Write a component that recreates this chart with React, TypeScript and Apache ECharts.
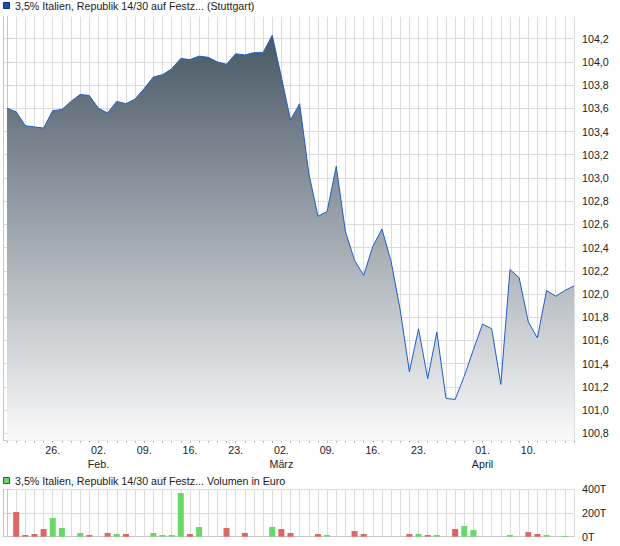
import React, { useEffect, useRef } from "react";
import * as echarts from "echarts";

// Trading-day index 0 = 19 Jan, last index 62 = 17 Apr
const priceValues = [
  103.6, 103.57, 103.45, 103.44, 103.43, 103.58, 103.59, 103.66, 103.72, 103.71,
  103.6, 103.56, 103.66, 103.64, 103.68, 103.77, 103.87, 103.89, 103.94, 104.03,
  104.02, 104.05, 104.04, 104.0, 103.98, 104.07, 104.06, 104.08, 104.08, 104.23,
  103.87, 103.5, 103.64, 103.04, 102.67, 102.71, 103.1, 102.54, 102.29, 102.16,
  102.41, 102.56, 102.28, 101.86, 101.33, 101.7, 101.27, 101.67, 101.1, 101.09,
  101.29, 101.52, 101.74, 101.7, 101.22, 102.21, 102.14, 101.76, 101.62, 102.03,
  101.98, 102.03, 102.07,
];

// Volume in thousand euro (T)
const volumeValues = [
  0, 209, 14, 23, 65, 158, 73, 0, 31, 14,
  0, 31, 23, 23, 0, 0, 31, 14, 14, 369,
  23, 82, 0, 0, 73, 0, 31, 0, 0, 82,
  65, 31, 0, 0, 23, 14, 0, 0, 48, 23,
  0, 0, 0, 0, 23, 23, 14, 14, 0, 65,
  90, 56, 0, 0, 0, 14, 0, 39, 23, 14,
  0, 6, 0,
];
// 1 = up (green), -1 = down (red), 0 = none
const volumeDirection = [
  0, -1, -1, -1, -1, 1, 1, 0, 1, -1,
  0, -1, 1, -1, 0, 0, 1, 1, 1, 1,
  -1, 1, 0, 0, -1, 0, -1, 0, 0, 1,
  -1, -1, 0, 0, -1, 1, 0, 0, -1, -1,
  0, 0, 0, 0, -1, 1, -1, 1, 0, -1,
  1, 1, 0, 0, 0, 1, 0, -1, -1, 1,
  0, 1, 0,
];

const xLabelIndex = [5, 10, 15, 20, 25, 30, 35, 40, 45, 52, 57];
const xLabelText = ["26.", "02.\nFeb.", "09.", "16.", "23.", "02.\nMärz", "09.", "16.", "23.", "01.\nApril", "10."];

const priceTicks = [100.8, 101.0, 101.2, 101.4, 101.6, 101.8, 102.0, 102.2, 102.4, 102.6, 102.8, 103.0, 103.2, 103.4, 103.6, 103.8, 104.0, 104.2];
const volumeTicks = [0, 200, 400];

const titlePrice = "3,5% Italien, Republik 14/30 auf Festz... (Stuttgart)";
const titleVolume = "3,5% Italien, Republik 14/30 auf Festz... Volumen in Euro";

const FONT = "'Liberation Sans', Arial, sans-serif";
const FS = 10.7;
const GRID_COLOR = "#dcdcdc";
const AXIS_COLOR = "#c8c8c8";
const TEXT_COLOR = "#222";

export default function App() {
  const ref = useRef<HTMLDivElement>(null);

  useEffect(() => {
    if (!ref.current) return;
    const chart = echarts.init(ref.current, undefined, { renderer: "svg" });
    const dayIdx = priceValues.map((_, i) => i);
    const labelMap: Record<number, string> = {};
    xLabelIndex.forEach((k, j) => (labelMap[k] = xLabelText[j]));

    const xBase = {
      type: "value" as const,
      min: -0.44,
      max: dayIdx.length - 1,
      splitLine: { show: true, lineStyle: { color: GRID_COLOR, width: 1 } },
      axisLine: { show: true, lineStyle: { color: AXIS_COLOR } },
    };

    chart.setOption({
      animation: false,
      textStyle: { fontFamily: FONT },
      grid: [
        { left: 3, right: 46, top: 16.7, height: 424, containLabel: false },
        { left: 3, right: 46, top: 489.3, height: 47.4, containLabel: false },
      ],
      xAxis: [
        {
          ...xBase,
          gridIndex: 0,
          axisTick: { show: true, customValues: dayIdx, length: 2, lineStyle: { color: "#aaa" } },
          axisLabel: {
            customValues: xLabelIndex,
            formatter: (v: number) => labelMap[Math.round(v)] ?? "",
            color: TEXT_COLOR,
            fontSize: FS,
            fontFamily: FONT,
            lineHeight: 14,
            margin: 2,
          },
        },
        {
          ...xBase,
          gridIndex: 1,
          axisTick: { show: false, customValues: dayIdx },
          axisLabel: { show: false },
        },
      ],
      yAxis: [
        {
          type: "value",
          gridIndex: 0,
          position: "right",
          min: 100.735,
          max: 104.39,
          axisLine: { show: true, lineStyle: { color: AXIS_COLOR } },
          axisTick: { show: true, customValues: priceTicks, length: 4, lineStyle: { color: AXIS_COLOR } },
          splitLine: { show: true, lineStyle: { color: GRID_COLOR } },
          axisLabel: {
            customValues: priceTicks,
            formatter: (v: number) => v.toFixed(1).replace(".", ","),
            color: TEXT_COLOR,
            fontSize: FS,
            fontFamily: FONT,
            margin: 8,
          },
        },
        {
          type: "value",
          gridIndex: 0,
          position: "left",
          min: 100.735,
          max: 104.39,
          axisLine: { show: true, lineStyle: { color: AXIS_COLOR } },
          axisTick: { show: false },
          axisLabel: { show: false },
          splitLine: { show: false },
        },
        {
          type: "value",
          gridIndex: 1,
          position: "right",
          min: 0,
          max: 400,
          interval: 200,
          axisLine: { show: true, lineStyle: { color: AXIS_COLOR } },
          axisTick: { show: true, customValues: volumeTicks, length: 4, lineStyle: { color: AXIS_COLOR } },
          splitLine: { show: true, lineStyle: { color: GRID_COLOR } },
          axisLabel: {
            customValues: volumeTicks,
            formatter: (v: number) => `${v}T`,
            color: TEXT_COLOR,
            fontSize: FS,
            fontFamily: FONT,
            margin: 8,
          },
        },
        {
          type: "value",
          gridIndex: 1,
          position: "left",
          min: 0,
          max: 400,
          axisLine: { show: true, lineStyle: { color: AXIS_COLOR } },
          axisTick: { show: false },
          axisLabel: { show: false },
          splitLine: { show: false },
        },
      ],
      series: [
        {
          type: "line",
          xAxisIndex: 0,
          yAxisIndex: 0,
          data: priceValues.map((v, i) => [i, v]),
          symbol: "none",
          lineStyle: { color: "#1f5cc8", width: 1 },
          areaStyle: {
            origin: "start",
            opacity: 1,
            color: new echarts.graphic.LinearGradient(0, 0, 0, 1, [
              { offset: 0, color: "#485866" },
              { offset: 1, color: "#fafafa" },
            ]),
          },
          z: 3,
        },
        {
          type: "bar",
          xAxisIndex: 1,
          yAxisIndex: 2,
          barWidth: 6,
          data: volumeValues.map((v, i) => ({
            value: [i, v],
            itemStyle: { color: volumeDirection[i] >= 0 ? "#66d966" : "#de6666" },
          })),
        },
      ],
      graphic: [
        {
          type: "rect",
          shape: { x: 3.5, y: 2.5, width: 6, height: 6 },
          style: { fill: "#1f50b8", stroke: "#0f2f70", lineWidth: 1 },
        },
        {
          type: "text",
          x: 15,
          y: 6,
          style: { text: titlePrice, fill: TEXT_COLOR, font: `${FS}px ${FONT}`, verticalAlign: "middle" },
        },
        {
          type: "rect",
          shape: { x: 3.5, y: 477.5, width: 6, height: 6 },
          style: { fill: "#66d966", stroke: "#1f6a1f", lineWidth: 1 },
        },
        {
          type: "text",
          x: 15,
          y: 480.5,
          style: { text: titleVolume, fill: TEXT_COLOR, font: `${FS}px ${FONT}`, verticalAlign: "middle" },
        },
      ],
    });
    return () => chart.dispose();
  }, []);

  return (
    <div
      ref={ref}
      style={{ position: "absolute", left: 0, top: 0, width: 620, height: 546, background: "#fff" }}
    />
  );
}
